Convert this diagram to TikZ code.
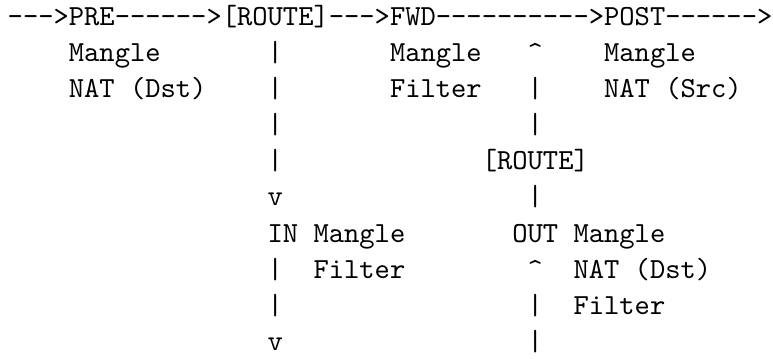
\documentclass[tikz,border=0pt]{standalone}
\usepackage{fontspec}
\setmonofont{Latin Modern Mono}
\begin{document}
\begin{tikzpicture}[x=5.749pt,y=-13.6pt,
  t/.style={inner sep=0pt,outer sep=0pt,anchor=base west,font=\fontsize{10.95pt}{13.6pt}\selectfont\ttfamily}]
\useasboundingbox (-2.9pt,9.4pt) rectangle (287.7pt,-125.2pt);
% line 1
\node[t] (a1) at (0,0) {-{}-{}->};
\node[t] (pre) at (4,0) {PRE};
\node[t] (a2) at (7,0) {-{}-{}-{}-{}-{}->};
\node[t] (route1) at (14,0) {[ROUTE]};
\node[t] (a3) at (21,0) {-{}-{}->};
\node[t] (fwd) at (25,0) {FWD};
\node[t] (a4) at (28,0) {-{}-{}-{}-{}-{}-{}-{}-{}-{}->};
\node[t] (post) at (39,0) {POST};
\node[t] (a5) at (43,0) {-{}-{}-{}-{}-{}->};
% line 2
\node[t] (preM) at (4,1) {Mangle};
\node[t] (l2a) at (17,1) {|};
\node[t] (fwdM) at (25,1) {Mangle};
\node[t] (l2b) at (34,1) {\textasciicircum};
\node[t] (postM) at (39,1) {Mangle};
% line 3
\node[t] (preN) at (4,2) {NAT (Dst)};
\node[t] (l3a) at (17,2) {|};
\node[t] (fwdF) at (25,2) {Filter};
\node[t] (l3b) at (34,2) {|};
\node[t] (postN) at (39,2) {NAT (Src)};
% line 4
\node[t] (l4a) at (17,3) {|};
\node[t] (l4b) at (34,3) {|};
% line 5
\node[t] (l5a) at (17,4) {|};
\node[t] (route2) at (31,4) {[ROUTE]};
% line 6
\node[t] (l6a) at (17,5) {v};
\node[t] (l6b) at (34,5) {|};
% line 7
\node[t] (in) at (17,6) {IN};
\node[t] (inM) at (20,6) {Mangle};
\node[t] (out) at (33,6) {OUT};
\node[t] (outM) at (37,6) {Mangle};
% line 8
\node[t] (l8a) at (17,7) {|};
\node[t] (inF) at (20,7) {Filter};
\node[t] (l8b) at (34,7) {\textasciicircum};
\node[t] (outN) at (37,7) {NAT (Dst)};
% line 9
\node[t] (l9a) at (17,8) {|};
\node[t] (l9b) at (34,8) {|};
\node[t] (outF) at (37,8) {Filter};
% line 10
\node[t] (l10a) at (17,9) {v};
\node[t] (l10b) at (34,9) {|};
\end{tikzpicture}
\end{document}
